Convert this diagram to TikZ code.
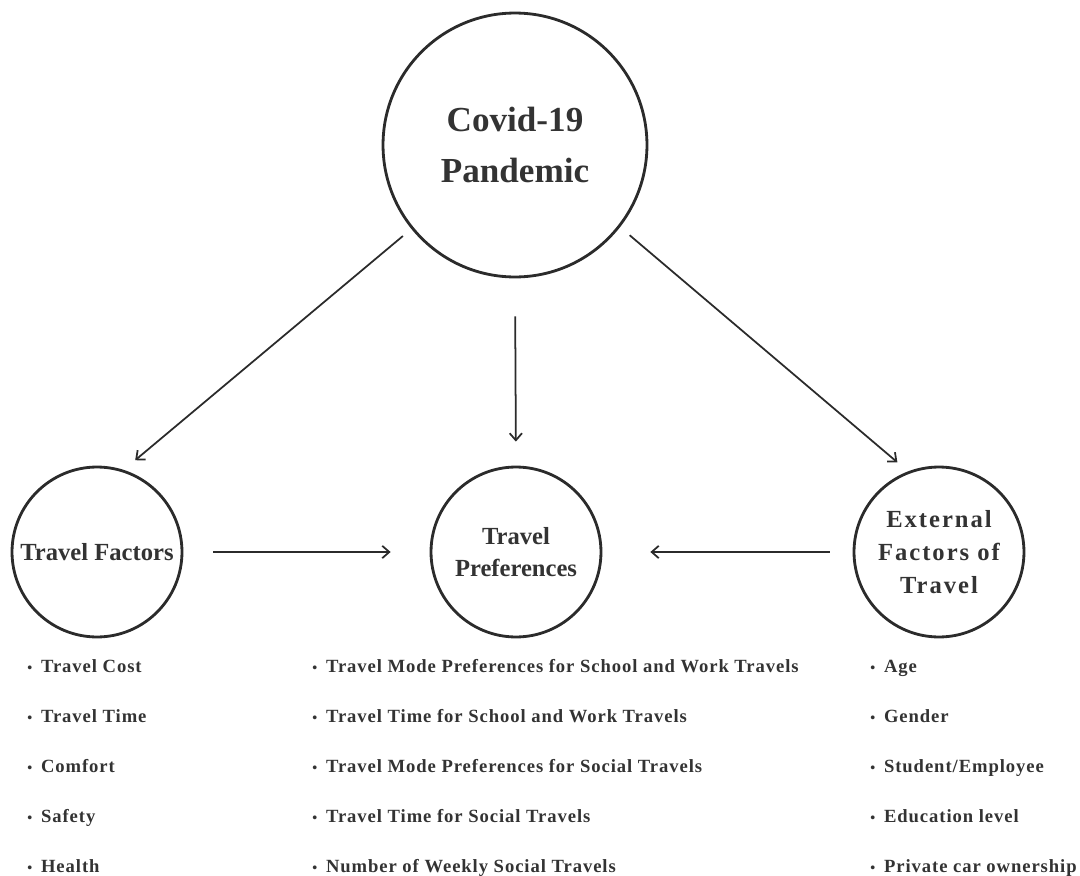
\documentclass[tikz,border=0pt]{standalone}
\usepackage{fontspec}
\setmainfont{Liberation Serif}
\newfontfamily\spacedfont{Liberation Serif}[LetterSpace=8]
\newfontfamily\itemfont{Liberation Serif}[LetterSpace=5]
\usetikzlibrary{arrows.meta}
\definecolor{ink}{HTML}{2B2B2B}
\definecolor{txt}{HTML}{333333}
\newcommand{\bul}{{\fontsize{8}{8}\selectfont\textbullet}\hspace{5pt}}

\begin{document}
\begin{tikzpicture}[x=0.02cm,y=-0.02cm,
    bubble/.style={draw=ink,circle,line width=1.6pt,inner sep=0pt,text=txt,align=center},
    flow/.style={draw=ink,line width=1pt,-{Straight Barb[length=4pt,width=7pt]}},
    item/.style={anchor=base west,inner sep=0pt,text=txt,font=\itemfont\bfseries\fontsize{10.6}{12}\selectfont}]
  \useasboundingbox (0,0) rectangle (1080,876);

  \node[bubble,minimum size=5.28cm,font=\bfseries\fontsize{20}{29}\selectfont] (covid) at (515,145) {Covid-19\\Pandemic};
  \node[bubble,minimum size=3.4cm,font=\bfseries\fontsize{14}{18}\selectfont] (factors) at (97,552) {Travel Factors};
  \node[bubble,minimum size=3.4cm,font=\bfseries\fontsize{14}{18}\selectfont] (prefs) at (516,552) {Travel\\Preferences};
  \node[bubble,minimum size=3.4cm,font=\spacedfont\bfseries\fontsize{14}{19}\selectfont] (external) at (939,552) {External\\Factors of\\Travel};

  \draw[flow,shorten <=0.22cm,shorten >=0.3cm] (covid.219.6) -- (factors.72.6);
  \draw[flow,shorten <=0.76cm,shorten >=0.48cm] (covid.south) -- (prefs.north);
  \draw[flow,shorten <=0.25cm,shorten >=0.28cm] (covid.322.6) -- (external.111.7);
  \draw[flow,shorten <=0.6cm,shorten >=0.78cm] (factors.east) -- (prefs.west);
  \draw[flow,shorten <=0.46cm,shorten >=0.96cm] (external.west) -- (prefs.east);

  % lists under the circles
  \foreach \t [count=\i] in {Travel Cost,Travel Time,Comfort,Safety,Health}
    \node[item] (fac\i) at (27,622+50*\i) {\bul\t};
  \foreach \t [count=\i] in {Travel Mode Preferences for School and Work Travels,
      Travel Time for School and Work Travels,Travel Mode Preferences for Social Travels,
      Travel Time for Social Travels,Number of Weekly Social Travels}
    \node[item] (pref\i) at (312,622+50*\i) {\bul\t};
  \foreach \t [count=\i] in {Age,Gender,Student/Employee,Education level,Private car ownership}
    \node[item] (ext\i) at (870,622+50*\i) {\bul\t};
\end{tikzpicture}
\end{document}
